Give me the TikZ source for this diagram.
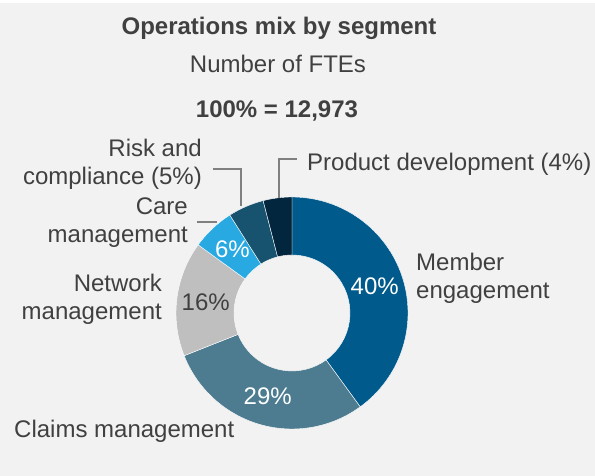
\documentclass[tikz,border=0pt]{standalone}
\usepackage{fontspec}
\setmainfont{Liberation Sans}
\usepackage{tikz}

\definecolor{bgcol}{HTML}{F2F2F2}
\definecolor{txtcol}{HTML}{404040}
\definecolor{membercol}{HTML}{005A8C}
\definecolor{claimscol}{HTML}{4D7C91}
\definecolor{networkcol}{HTML}{BFBFBF}
\definecolor{carecol}{HTML}{29A9E1}
\definecolor{riskcol}{HTML}{17536F}
\definecolor{productcol}{HTML}{03263F}
\definecolor{leadcol}{HTML}{808080}

\tikzset{
  lbl/.style={text=txtcol, inner sep=0pt, font=\fontsize{24}{28}\selectfont},
  pct/.style={text=white, inner sep=0pt, font=\fontsize{24}{28}\selectfont},
  leader/.style={draw=leadcol, line width=1.3pt},
  wedge/.style={draw=white, line width=0.4pt}
}

\begin{document}
\begin{tikzpicture}[x=1pt, y=1pt]
  \useasboundingbox (0,0) rectangle (595,476);
  \fill[bgcol] (0,0) rectangle (595,473);

  % titles
  \node[lbl, font=\bfseries\fontsize{24}{28}\selectfont, anchor=base] (title) at (279,441) {Operations mix by segment};
  \node[lbl, anchor=base] (unit) at (278,403) {Number of FTEs};
  \node[lbl, font=\bfseries\fontsize{24}{28}\selectfont, anchor=base] (total) at (277,358) {100\% = 12,973};

  % donut, clockwise from the top
  \begin{scope}[shift={(292,163)}]
    \fill[membercol, wedge] (90:116) arc[start angle=90, end angle=-54, radius=116] -- (-54:58) arc[start angle=-54, end angle=90, radius=58] -- cycle;
    \fill[claimscol, wedge] (-54:116) arc[start angle=-54, end angle=-158.4, radius=116] -- (-158.4:58) arc[start angle=-158.4, end angle=-54, radius=58] -- cycle;
    \fill[networkcol, wedge] (-158.4:116) arc[start angle=-158.4, end angle=-216, radius=116] -- (-216:58) arc[start angle=-216, end angle=-158.4, radius=58] -- cycle;
    \fill[carecol, wedge] (-216:116) arc[start angle=-216, end angle=-237.6, radius=116] -- (-237.6:58) arc[start angle=-237.6, end angle=-216, radius=58] -- cycle;
    \fill[riskcol, wedge] (-237.6:116) arc[start angle=-237.6, end angle=-255.6, radius=116] -- (-255.6:58) arc[start angle=-255.6, end angle=-237.6, radius=58] -- cycle;
    \fill[productcol, wedge] (-255.6:116) arc[start angle=-255.6, end angle=-270, radius=116] -- (-270:58) arc[start angle=-270, end angle=-255.6, radius=58] -- cycle;

    \node[pct] (memberpct) at (18:87) {40\%};
    \node[pct] (claimspct) at (-106.2:87) {29\%};
    \node[pct, text=txtcol] (networkpct) at (-187.2:87) {16\%};
    \node[pct] (carepct) at (-226.8:87) {6\%};
  \end{scope}

  % segment labels (base = last line)
  \node[lbl, anchor=base west, align=left] (member) at (416,177) {Member\\engagement};
  \node[lbl, anchor=base west] (claims) at (14,38) {Claims management};
  \node[lbl, anchor=base east, align=right] (network) at (162,156) {Network\\management};
  \node[lbl, anchor=base east, align=right] (care) at (188,233) {Care\\management};
  \node[lbl, anchor=base east, align=right] (risk) at (202,291) {Risk and\\compliance (5\%)};
  \node[lbl, anchor=base west] (product) at (307,305) {Product development (4\%)};

  % leader lines
  \coordinate (careA) at (197,254);
  \coordinate (careB) at (217,254);
  \coordinate (riskA) at (213,307);
  \coordinate (riskB) at (241,270);
  \coordinate (prodA) at (297,317);
  \coordinate (prodB) at (279,278);
  \draw[leader] (careA) -- (careB);
  \draw[leader] (riskA) -| (riskB);
  \draw[leader] (prodA) -| (prodB);
\end{tikzpicture}
\end{document}
